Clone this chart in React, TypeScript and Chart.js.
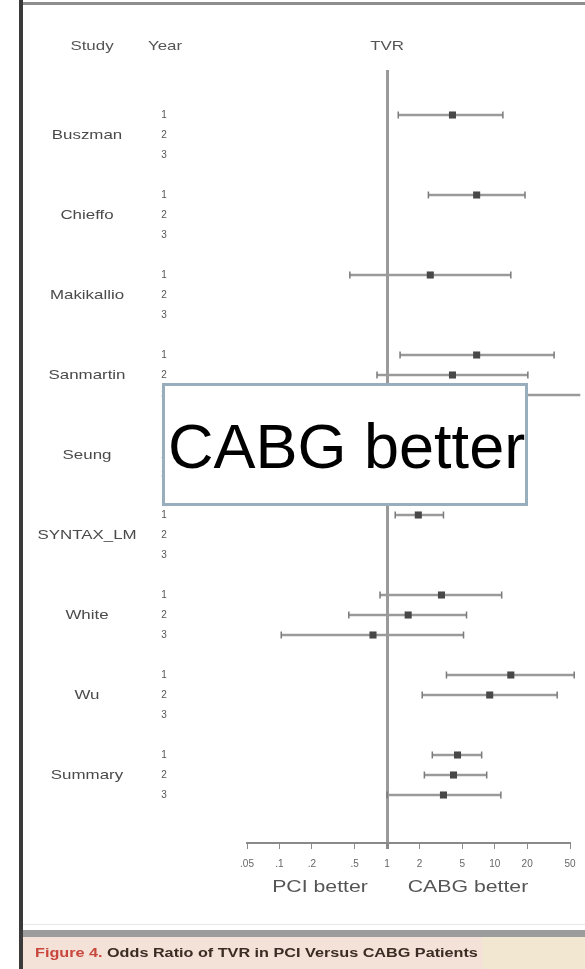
import React, { useEffect, useRef } from "react";
import { Chart, registerables } from "chart.js";

Chart.register(...registerables);

// Studies in the forest plot, each reported for up to three years of follow-up.
const studies = ["Buszman", "Chieffo", "Makikallio", "Sanmartin", "Seung", "SYNTAX_LM", "White", "Wu", "Summary"];
const yearLabels = ["1", "2", "3"];

// Odds ratio of target vessel revascularisation (PCI vs CABG), per study and year.
const oddsRatio: (number | null)[][] = [
  [4.05, null, null],
  [6.79, null, null],
  [2.52, null, null],
  [6.79, 4.05, 9.8],
  [2.3, 1.8, 2.6],
  [1.95, null, null],
  [3.2, 1.57, 0.74],
  [14.1, 8.98, null],
  [4.51, 4.14, 3.34],
];
const ciLower: (number | null)[][] = [
  [1.27, null, null],
  [2.42, null, null],
  [0.451, null, null],
  [1.32, 0.806, 1.5],
  [0.9, 0.7, 1.0],
  [1.19, null, null],
  [0.86, 0.441, 0.104],
  [3.56, 2.12, null],
  [2.63, 2.22, 1.0],
];
const ciUpper: (number | null)[][] = [
  [11.9, null, null],
  [19.1, null, null],
  [14.1, null, null],
  [35.6, 20.3, 62.3],
  [6.0, 4.9, 7.0],
  [3.34, null, null],
  [11.6, 5.47, 5.13],
  [54.7, 38.0, null],
  [7.56, 8.42, 11.4],
];

const tickValues = [0.05, 0.1, 0.2, 0.5, 1, 2, 5, 10, 20, 50];
const tickLabels = [".05", ".1", ".2", ".5", "1", "2", "5", "10", "20", "50"];

const FONT = "'Liberation Sans', Arial, Helvetica, sans-serif";
const W = 585;
const H = 969;

// one slot per year row, plus a blank slot between studies
const slotOf = (g: number, k: number) => g * 4 + k;

function drawText(
  ctx: CanvasRenderingContext2D,
  text: string,
  x: number,
  y: number,
  font: string,
  color: string,
  align: CanvasTextAlign = "center",
  scaleX = 1
) {
  ctx.save();
  ctx.translate(x, y);
  ctx.scale(scaleX, 1);
  ctx.font = font;
  ctx.fillStyle = color;
  ctx.textAlign = align;
  ctx.textBaseline = "middle";
  ctx.fillText(text, 0, 0);
  ctx.restore();
}

const framePlugin = {
  id: "forestFrame",
  beforeDraw(chart: Chart) {
    const { ctx } = chart;
    ctx.save();
    ctx.fillStyle = "#ffffff";
    ctx.fillRect(0, 0, W, H);
    // page frame
    ctx.fillStyle = "#8e8e8e";
    ctx.fillRect(20, 2, W - 20, 3);
    ctx.fillStyle = "#e8e8e8";
    ctx.fillRect(23, 924, W - 23, 1);
    ctx.fillStyle = "#9c9c9c";
    ctx.fillRect(20, 930, W - 20, 7);
    ctx.fillStyle = "#f2e8d2";
    ctx.fillRect(23, 937, W - 23, H - 937);
    ctx.fillStyle = "#f4e2d8";
    ctx.fillRect(23, 937, 460, H - 937);
    ctx.fillStyle = "#3a3a3a";
    ctx.fillRect(19, 0, 4, H);
    ctx.restore();
  },
  afterDraw(chart: Chart) {
    const { ctx } = chart;
    const y = chart.scales.y;
    const x = chart.scales.x;

    // column headers
    const headFont = `13px ${FONT}`;
    drawText(ctx, "Study", 92, 46, headFont, "#555", "center", 1.3);
    drawText(ctx, "Year", 165, 46, headFont, "#555", "center", 1.3);
    drawText(ctx, "TVR", x.getPixelForValue(1), 46, headFont, "#555", "center", 1.3);

    // study names and year rows
    studies.forEach((name, g) => {
      drawText(ctx, name, 87, y.getPixelForValue(slotOf(g, 1)), `13px ${FONT}`, "#4a4a4a", "center", 1.3);
      yearLabels.forEach((yr, k) => {
        drawText(ctx, yr, 164, y.getPixelForValue(slotOf(g, k)), `10px ${FONT}`, "#555", "center", 1.0);
      });
    });

    // direction labels under the axis
    drawText(ctx, "PCI better", 320, 887, `17px ${FONT}`, "#555", "center", 1.25);
    drawText(ctx, "CABG better", 468, 887, `17px ${FONT}`, "#555", "center", 1.25);

    // highlighted callout
    ctx.save();
    ctx.fillStyle = "#ffffff";
    ctx.fillRect(163, 384, 364, 121);
    ctx.strokeStyle = "#98aebd";
    ctx.lineWidth = 3;
    ctx.strokeRect(163.5, 384.5, 363, 120);
    ctx.restore();
    drawText(ctx, "CABG better", 168, 451, `63px ${FONT}`, "#000", "left", 1);

    // figure caption
    ctx.save();
    ctx.translate(35, 954);
    ctx.scale(1.35, 1);
    ctx.font = `bold 12px ${FONT}`;
    ctx.textBaseline = "middle";
    ctx.textAlign = "left";
    ctx.fillStyle = "#c8463c";
    const lead = "Figure 4.";
    ctx.fillText(lead, 0, 0);
    const leadW = ctx.measureText(lead + " ").width;
    ctx.fillStyle = "#3a2c22";
    ctx.fillText("Odds Ratio of TVR in PCI Versus CABG Patients", leadW, 0);
    ctx.restore();
  },
};

export default function App() {
  const canvasRef = useRef<HTMLCanvasElement | null>(null);

  useEffect(() => {
    document.body.style.margin = "0";
    const canvas = canvasRef.current;
    if (!canvas) return;

    const points: { x: number; y: number }[] = [];
    const ciSegments: { x: number; y: number | null }[] = [];
    studies.forEach((_, g) => {
      yearLabels.forEach((__, k) => {
        const s = slotOf(g, k);
        const or = oddsRatio[g][k];
        const lo = ciLower[g][k];
        const hi = ciUpper[g][k];
        if (or !== null) points.push({ x: or, y: s });
        if (lo !== null && hi !== null) {
          ciSegments.push({ x: lo, y: s }, { x: hi, y: s }, { x: hi, y: null });
        }
      });
    });

    const chart = new Chart(canvas, {
      type: "scatter",
      data: {
        datasets: [
          {
            label: "Odds ratio",
            data: points,
            pointStyle: "rect",
            pointRadius: 5,
            pointBackgroundColor: "#484848",
            pointBorderColor: "#484848",
            pointBorderWidth: 0,
            clip: false,
          },
          {
            label: "95% CI",
            data: ciSegments as any,
            showLine: true,
            spanGaps: false,
            borderColor: "#9a9a9a",
            borderWidth: 2.5,
            pointStyle: "line",
            pointRotation: 90,
            pointRadius: 3.5,
            pointBorderColor: "#7a7a7a",
            pointBorderWidth: 1.5,
            clip: false,
          } as any,
        ],
      },
      options: {
        animation: false,
        responsive: false,
        events: [],
        layout: { padding: { left: 247, right: 15, top: 70, bottom: 90 } },
        plugins: { legend: { display: false }, tooltip: { enabled: false } },
        scales: {
          x: {
            type: "logarithmic",
            min: tickValues[0],
            max: tickValues[tickValues.length - 1],
            bounds: "data",
            afterBuildTicks: (scale: any) => {
              scale.ticks = tickValues.map((v) => ({ value: v }));
            },
            border: { display: true, color: "#8a8a8a", width: 2 },
            grid: {
              drawOnChartArea: true,
              drawTicks: true,
              tickLength: 6,
              color: (c: any) => (c.tick && c.tick.value === 1 ? "#9a9a9a" : "rgba(0,0,0,0)"),
              lineWidth: (c: any) => (c.tick && c.tick.value === 1 ? 3 : 1),
              tickColor: "#8a8a8a",
            },
            ticks: {
              autoSkip: false,
              maxRotation: 0,
              padding: 9,
              color: "#666",
              font: { family: FONT, size: 10 },
              callback: (_v: any, i: number) => tickLabels[i],
            },
          },
          y: {
            type: "linear",
            display: false,
            reverse: true,
            min: -2.25,
            max: 36.4,
          },
        },
      },
      plugins: [framePlugin],
    });

    return () => chart.destroy();
  }, []);

  return (
    <div style={{ width: W, height: H }}>
      <canvas ref={canvasRef} width={W} height={H} style={{ display: "block" }} />
    </div>
  );
}
